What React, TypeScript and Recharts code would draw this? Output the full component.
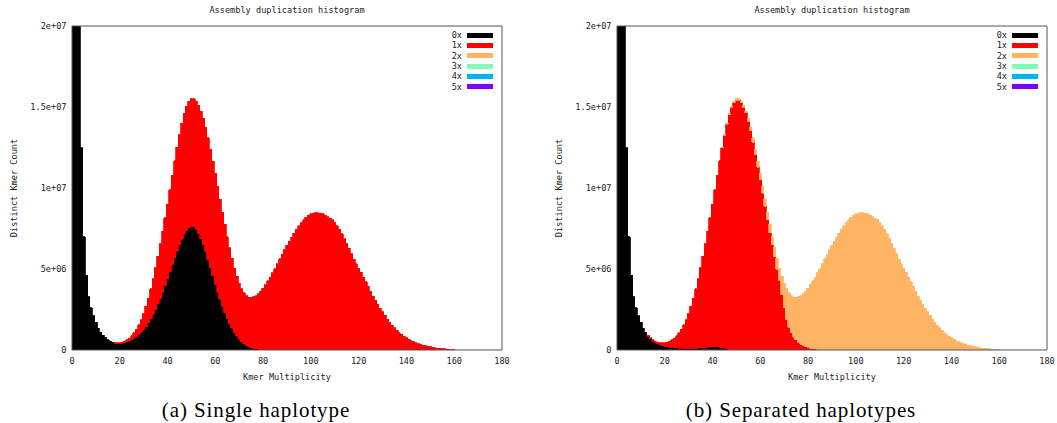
import React from 'react';
import { BarChart, Bar, XAxis, YAxis, Legend } from 'recharts';

// distinct k-mer counts per multiplicity bin 0..160, in millions
const singleBlack = [
  80, 60, 40, 24, 12.5, 7.0, 4.6, 3.3, 2.6, 2.1,
  1.7, 1.35, 1.1, 0.9, 0.75, 0.63, 0.55, 0.49, 0.42, 0.4,
  0.4, 0.42, 0.45, 0.5, 0.56, 0.64, 0.73, 0.84, 0.96, 1.1,
  1.26, 1.45, 1.67, 1.92, 2.2, 2.5, 2.84, 3.2, 3.58, 3.98,
  4.4, 4.82, 5.25, 5.68, 6.1, 6.5, 6.85, 7.15, 7.38, 7.55,
  7.65, 7.6, 7.45, 7.2, 6.88, 6.5, 6.06, 5.58, 5.08, 4.57,
  4.07, 3.58, 3.12, 2.7, 2.3, 1.94, 1.62, 1.33, 1.08, 0.86,
  0.67, 0.51, 0.38, 0.28, 0.2, 0.14, 0.1, 0.07, 0.05, 0.03,
  0.02, 0.01, 0, 0, 0, 0, 0, 0, 0, 0,
  0, 0, 0, 0, 0, 0, 0, 0, 0, 0,
  0, 0, 0, 0, 0, 0, 0, 0, 0, 0,
  0, 0, 0, 0, 0, 0, 0, 0, 0, 0,
  0, 0, 0, 0, 0, 0, 0, 0, 0, 0,
  0, 0, 0, 0, 0, 0, 0, 0, 0, 0,
  0, 0, 0, 0, 0, 0, 0, 0, 0, 0,
  0, 0, 0, 0, 0, 0, 0, 0, 0, 0,
  0,
];

const singleRed = [
  0, 0, 0, 0, 0, 0, 0, 0, 0, 0,
  0, 0, 0, 0, 0, 0, 0, 0, 0.03, 0.04,
  0.05, 0.06, 0.09, 0.12, 0.17, 0.24, 0.33, 0.44, 0.59, 0.78,
  0.99, 1.25, 1.53, 1.86, 2.2, 2.58, 2.96, 3.35, 3.75, 4.17,
  4.6, 5.08, 5.55, 6.0, 6.42, 6.8, 7.15, 7.45, 7.67, 7.8,
  7.85, 7.9, 7.9, 7.9, 7.87, 7.8, 7.69, 7.52, 7.32, 7.08,
  6.83, 6.52, 6.18, 5.8, 5.45, 5.06, 4.68, 4.32, 3.97, 3.69,
  3.45, 3.27, 3.14, 3.07, 3.07, 3.11, 3.18, 3.29, 3.43, 3.6,
  3.8, 4.02, 4.26, 4.5, 4.76, 5.03, 5.32, 5.62, 5.92, 6.2,
  6.46, 6.72, 6.97, 7.21, 7.45, 7.67, 7.87, 8.04, 8.19, 8.31,
  8.4, 8.45, 8.47, 8.47, 8.45, 8.41, 8.33, 8.24, 8.14, 8.03,
  7.88, 7.67, 7.44, 7.17, 6.88, 6.6, 6.27, 5.94, 5.6, 5.33,
  5.06, 4.8, 4.5, 4.22, 3.93, 3.63, 3.33, 3.06, 2.81, 2.57,
  2.35, 2.13, 1.9, 1.71, 1.53, 1.37, 1.21, 1.07, 0.96, 0.86,
  0.76, 0.67, 0.58, 0.5, 0.44, 0.38, 0.34, 0.3, 0.26, 0.23,
  0.2, 0.17, 0.15, 0.12, 0.1, 0.08, 0.07, 0.05, 0.04, 0.02,
  0.01,
];

const separatedBlack = [
  80, 60, 40, 24, 12.5, 7.0, 4.6, 3.3, 2.6, 2.1,
  1.7, 1.35, 1.1, 0.85, 0.7, 0.55, 0.45, 0.38, 0.32, 0.27,
  0.23, 0.2, 0.18, 0.16, 0.14, 0.13, 0.12, 0.11, 0.1, 0.1,
  0.1, 0.1, 0.1, 0.11, 0.12, 0.13, 0.15, 0.17, 0.18, 0.2,
  0.21, 0.21, 0.2, 0.18, 0.15, 0.11, 0.07, 0.04, 0.02, 0.01,
  0, 0, 0, 0, 0, 0, 0, 0, 0, 0,
  0, 0, 0, 0, 0, 0, 0, 0, 0, 0,
  0, 0, 0, 0, 0, 0, 0, 0, 0, 0,
  0, 0, 0, 0, 0, 0, 0, 0, 0, 0,
  0, 0, 0, 0, 0, 0, 0, 0, 0, 0,
  0, 0, 0, 0, 0, 0, 0, 0, 0, 0,
  0, 0, 0, 0, 0, 0, 0, 0, 0, 0,
  0, 0, 0, 0, 0, 0, 0, 0, 0, 0,
  0, 0, 0, 0, 0, 0, 0, 0, 0, 0,
  0, 0, 0, 0, 0, 0, 0, 0, 0, 0,
  0, 0, 0, 0, 0, 0, 0, 0, 0, 0,
  0,
];

const separatedRed = [
  0, 0, 0, 0, 0, 0, 0, 0, 0, 0,
  0, 0, 0, 0.05, 0.05, 0.08, 0.1, 0.11, 0.13, 0.17,
  0.22, 0.28, 0.36, 0.46, 0.59, 0.75, 0.94, 1.17, 1.45, 1.78,
  2.15, 2.6, 3.1, 3.67, 4.28, 4.95, 5.65, 6.38, 7.15, 7.95,
  8.79, 9.69, 10.6, 11.5, 12.33, 13.14, 13.87, 14.49, 14.95, 15.26,
  15.42, 15.42, 15.27, 15.0, 14.63, 14.13, 13.53, 12.82, 12.07, 11.28,
  10.5, 9.68, 8.87, 8.05, 7.25, 6.5, 5.75, 5.0, 4.3, 3.4,
  2.6, 1.9, 1.4, 1.05, 0.8, 0.62, 0.48, 0.37, 0.28, 0.21,
  0.16, 0.12, 0.09, 0.07, 0.05, 0.03, 0.02, 0.01, 0, 0,
  0, 0, 0, 0, 0, 0, 0, 0, 0, 0,
  0, 0, 0, 0, 0, 0, 0, 0, 0, 0,
  0, 0, 0, 0, 0, 0, 0, 0, 0, 0,
  0, 0, 0, 0, 0, 0, 0, 0, 0, 0,
  0, 0, 0, 0, 0, 0, 0, 0, 0, 0,
  0, 0, 0, 0, 0, 0, 0, 0, 0, 0,
  0, 0, 0, 0, 0, 0, 0, 0, 0, 0,
  0,
];

const separatedOrange = [
  0, 0, 0, 0, 0, 0, 0, 0, 0, 0,
  0, 0, 0, 0, 0, 0, 0, 0, 0, 0,
  0, 0, 0, 0, 0, 0, 0, 0, 0, 0,
  0, 0, 0, 0, 0, 0, 0, 0, 0, 0,
  0, 0, 0, 0, 0.04, 0.05, 0.06, 0.07, 0.08, 0.08,
  0.08, 0.08, 0.08, 0.1, 0.12, 0.17, 0.22, 0.28, 0.33, 0.37,
  0.4, 0.42, 0.43, 0.45, 0.5, 0.5, 0.55, 0.65, 0.75, 1.15,
  1.52, 1.88, 2.12, 2.3, 2.47, 2.63, 2.8, 2.99, 3.2, 3.42,
  3.66, 3.91, 4.17, 4.43, 4.71, 5.0, 5.3, 5.61, 5.92, 6.2,
  6.46, 6.72, 6.97, 7.21, 7.45, 7.67, 7.87, 8.04, 8.19, 8.31,
  8.4, 8.45, 8.47, 8.47, 8.45, 8.41, 8.33, 8.24, 8.14, 8.03,
  7.88, 7.67, 7.44, 7.17, 6.88, 6.6, 6.27, 5.94, 5.6, 5.33,
  5.06, 4.8, 4.5, 4.22, 3.93, 3.63, 3.33, 3.06, 2.81, 2.57,
  2.35, 2.13, 1.9, 1.71, 1.53, 1.37, 1.21, 1.07, 0.96, 0.86,
  0.76, 0.67, 0.58, 0.5, 0.44, 0.38, 0.34, 0.3, 0.26, 0.23,
  0.2, 0.17, 0.15, 0.12, 0.1, 0.08, 0.07, 0.05, 0.04, 0.02,
  0.01,
];

const multiplicity = singleBlack.map((_, i) => i);
const noKmers = multiplicity.map(() => 0); // 3x, 4x, 5x are empty in both plots

const xTicks = [0, 20, 40, 60, 80, 100, 120, 140, 160, 180];
const yTicks = [0, 5e6, 1e7, 1.5e7, 2e7];
const seriesNames = ['0x', '1x', '2x', '3x', '4x', '5x'];
const seriesColors = ['#000000', '#ff0000', '#ffb464', '#80ffb4', '#00b4ec', '#8000ff'];

const MONO = '"DejaVu Sans Mono", monospace';
const AXIS = '#555';
const TEXT = '#222';

const buildRows = (layers: number[][]) =>
  multiplicity.map((x, i) => {
    const row: Record<string, number> = { x };
    layers.forEach((layer, k) => {
      row[seriesNames[k]] = layer[i] * 1e6;
    });
    return row;
  });

const singleRows = buildRows([singleBlack, singleRed, noKmers, noKmers, noKmers, noKmers]);
const separatedRows = buildRows([separatedBlack, separatedRed, separatedOrange, noKmers, noKmers, noKmers]);

// gnuplot style: 5e+06 instead of 5e+6
const sciLabel = (v: number) =>
  v === 0 ? '0' : v.toExponential().replace(/e\+(\d)$/, 'e+0$1');

const tickFont = { fontSize: 8.6, fontFamily: MONO, fill: TEXT };

const KeyBox = ({ payload }: any) => (
  <div style={{ fontFamily: MONO, fontSize: 8.6, color: TEXT }}>
    {(payload || []).map((p: any) => (
      <div
        key={p.value}
        style={{ display: 'flex', alignItems: 'center', justifyContent: 'flex-end', height: 10.33 }}
      >
        <span>{p.value}</span>
        <span style={{ display: 'inline-block', width: 26, height: 5, marginLeft: 5, background: p.color }} />
      </div>
    ))}
  </div>
);

const Histogram = ({ rows, left, caption }: { rows: Record<string, number>[]; left: number; caption: string }) => (
  <div style={{ position: 'absolute', left, top: 0, width: 520, height: 423 }}>
    <div style={{ position: 'absolute', left: 72, top: 4, width: 430, textAlign: 'center', fontFamily: MONO, fontSize: 8.6, lineHeight: '12px', color: TEXT }}>
      Assembly duplication histogram
    </div>
    <BarChart
      width={520}
      height={390}
      data={rows}
      margin={{ top: 26, right: 18, bottom: 20, left: 12 }}
      barGap={0}
      barCategoryGap={0}
    >
      <XAxis
        dataKey="x"
        type="number"
        domain={[0, 180]}
        ticks={xTicks}
        allowDataOverflow
        height={20}
        tickLine={false}
        tickSize={6}
        tickMargin={2}
        axisLine={{ stroke: AXIS }}
        tick={tickFont}
      />
      <XAxis xAxisId="inner" type="number" domain={[0, 180]} ticks={xTicks} allowDataOverflow orientation="bottom" mirror tick={false} tickSize={4} axisLine={false} tickLine={{ stroke: AXIS }} />
      <XAxis xAxisId="top" type="number" domain={[0, 180]} ticks={xTicks} allowDataOverflow orientation="top" mirror tick={false} tickSize={4} axisLine={{ stroke: AXIS }} tickLine={{ stroke: AXIS }} />
      <YAxis
        type="number"
        domain={[0, 2e7]}
        ticks={yTicks}
        allowDataOverflow
        width={60}
        tickLine={false}
        tickSize={4}
        tickMargin={1.5}
        axisLine={{ stroke: AXIS }}
        tick={tickFont}
        tickFormatter={sciLabel}
      />
      <YAxis yAxisId="inner" type="number" domain={[0, 2e7]} ticks={yTicks} allowDataOverflow orientation="left" mirror tick={false} tickSize={4} axisLine={false} tickLine={{ stroke: AXIS }} />
      <YAxis yAxisId="right" type="number" domain={[0, 2e7]} ticks={yTicks} allowDataOverflow orientation="right" mirror tick={false} tickSize={4} axisLine={{ stroke: AXIS }} tickLine={{ stroke: AXIS }} />
      <Legend
        layout="vertical"
        align="center"
        verticalAlign="middle"
        content={<KeyBox />}
        wrapperStyle={{ left: 440, top: 30, width: 53, height: 62 }}
      />
      {seriesNames.map((name, k) => (
        <Bar
          key={name}
          dataKey={name}
          name={name}
          stackId="kmers"
          fill={seriesColors[k]}
          stroke={seriesColors[k]}
          strokeWidth={0.8}
          shapeRendering="crispEdges"
          barSize={2.38}
          isAnimationActive={false}
        />
      ))}
    </BarChart>
    <div style={{ position: 'absolute', left: 72, top: 371, width: 430, textAlign: 'center', fontFamily: MONO, fontSize: 8.6, lineHeight: '12px', color: TEXT }}>
      Kmer Multiplicity
    </div>
    <div style={{ position: 'absolute', left: 14, top: 188, transform: 'translate(-50%, -50%) rotate(-90deg)', whiteSpace: 'nowrap', fontFamily: MONO, fontSize: 8.6, color: TEXT }}>
      Distinct Kmer Count
    </div>
    <div style={{ position: 'absolute', left: 0, top: 397, width: 512, textAlign: 'center', fontFamily: '"Liberation Serif", serif', fontSize: 21, letterSpacing: 0.9, lineHeight: '26px', color: '#000' }}>
      {caption}
    </div>
  </div>
);

export default function App() {
  return (
    <div style={{ position: 'absolute', left: 0, top: 0, width: 1057, height: 423, background: '#fff', overflow: 'hidden' }}>
      <Histogram rows={singleRows} left={0} caption="(a) Single haplotype" />
      <Histogram rows={separatedRows} left={545} caption="(b) Separated haplotypes" />
    </div>
  );
}
